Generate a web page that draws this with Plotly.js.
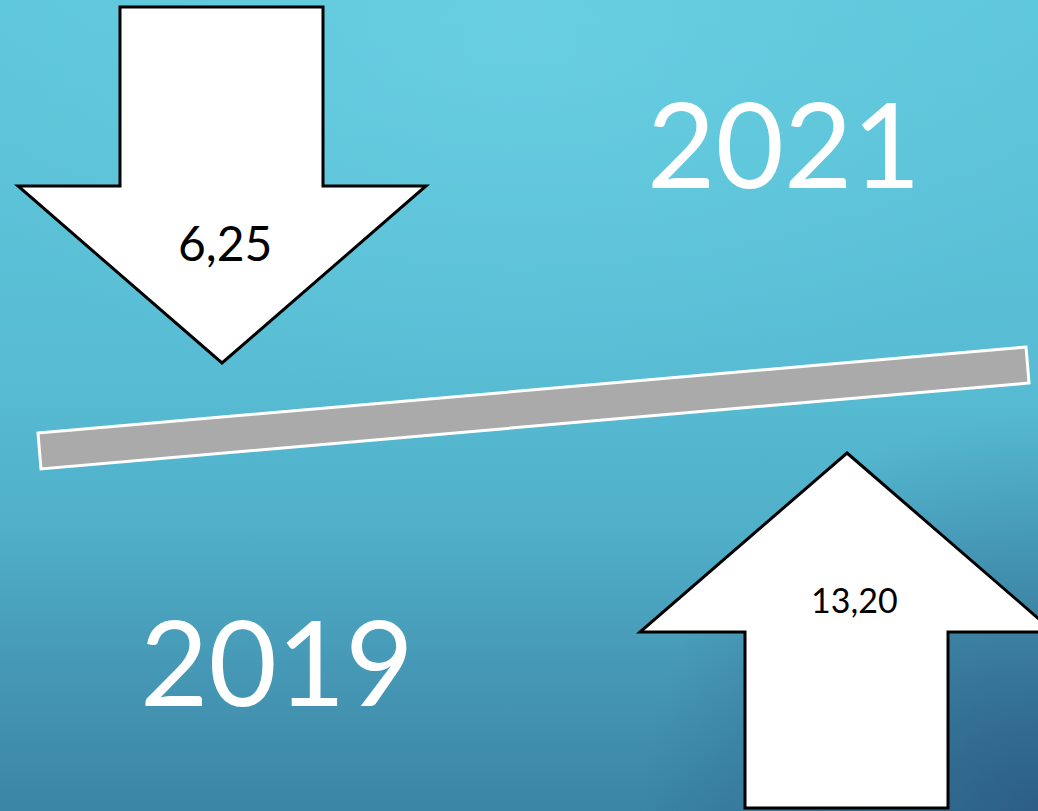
<!DOCTYPE html>
<html>
<head>
<meta charset="utf-8">
<script src="https://cdn.plot.ly/plotly-3.0.1.min.js"></script>
<style>
html, body { margin: 0; padding: 0; overflow: hidden; }
#chart {
  width: 1038px; height: 811px;
  background:
    radial-gradient(circle at 100% 100%, rgba(38,78,122,0.7) 0%, rgba(38,78,122,0) 30%),
    radial-gradient(ellipse 60% 45% at 50% 5%, rgba(112,212,230,0.55) 0%, rgba(112,212,230,0) 100%),
    linear-gradient(180deg, #5EC6DB 0%, #58BDD4 45%, #50B0C9 65%, #4699B6 82%, #3A84A4 100%);
}
</style>
</head>
<body>
<div id="chart"></div>
<script>
// Data
const years = ['2021', '2019'];
const valueLabels = ['6,25', '13,20'];
const values = [6.25, 13.20];
const directions = ['down', 'up'];

// Geometry (pixel-like coordinate system of the slide)
const W = 1038, H = 811;

const downArrow = 'M120,7 L323,7 L323,186 L426,186 L222,363 L18,186 L120,186 Z';
const upArrow = 'M847,453 L1054,632 L948,632 L948,808 L745,808 L745,632 L640,632 Z';
const bar = 'M38,433 L1026,347 L1029,383 L41,469 Z';

const shapes = [
  {type: 'path', xref: 'x', yref: 'y', path: bar, fillcolor: '#AAAAAA', line: {color: '#FFFFFF', width: 3}},
  {type: 'path', xref: 'x', yref: 'y', path: directions[0] === 'down' ? downArrow : upArrow, fillcolor: '#FFFFFF', line: {color: '#000000', width: 3}},
  {type: 'path', xref: 'x', yref: 'y', path: directions[1] === 'up' ? upArrow : downArrow, fillcolor: '#FFFFFF', line: {color: '#000000', width: 3}}
];

const fontFam = 'Lato, "Open Sans", "DejaVu Sans", sans-serif';
const annotations = [
  {x: 784, y: 142, text: years[0], showarrow: false, xanchor: 'center', yanchor: 'middle', font: {family: fontFam, size: 118, color: '#FFFFFF'}},
  {x: 277, y: 660, text: years[1], showarrow: false, xanchor: 'center', yanchor: 'middle', font: {family: fontFam, size: 118, color: '#FFFFFF'}},
  {x: 225, y: 242, text: valueLabels[0], showarrow: false, xanchor: 'center', yanchor: 'middle', font: {family: fontFam, size: 48, color: '#000000'}},
  {x: 854, y: 599, text: valueLabels[1], showarrow: false, xanchor: 'center', yanchor: 'middle', font: {family: fontFam, size: 34, color: '#000000'}}
];

const trace = {x: [0], y: [0], mode: 'markers', marker: {opacity: 0}, hoverinfo: 'skip', showlegend: false, customdata: values};

const layout = {
  width: W, height: H,
  margin: {l: 0, r: 0, t: 0, b: 0, pad: 0},
  paper_bgcolor: 'rgba(0,0,0,0)',
  plot_bgcolor: 'rgba(0,0,0,0)',
  xaxis: {range: [0, W], visible: false, fixedrange: true},
  yaxis: {range: [H, 0], visible: false, fixedrange: true},
  shapes: shapes,
  annotations: annotations,
  showlegend: false
};

Plotly.newPlot('chart', [trace], layout, {staticPlot: true, displayModeBar: false});
</script>
</body>
</html>
